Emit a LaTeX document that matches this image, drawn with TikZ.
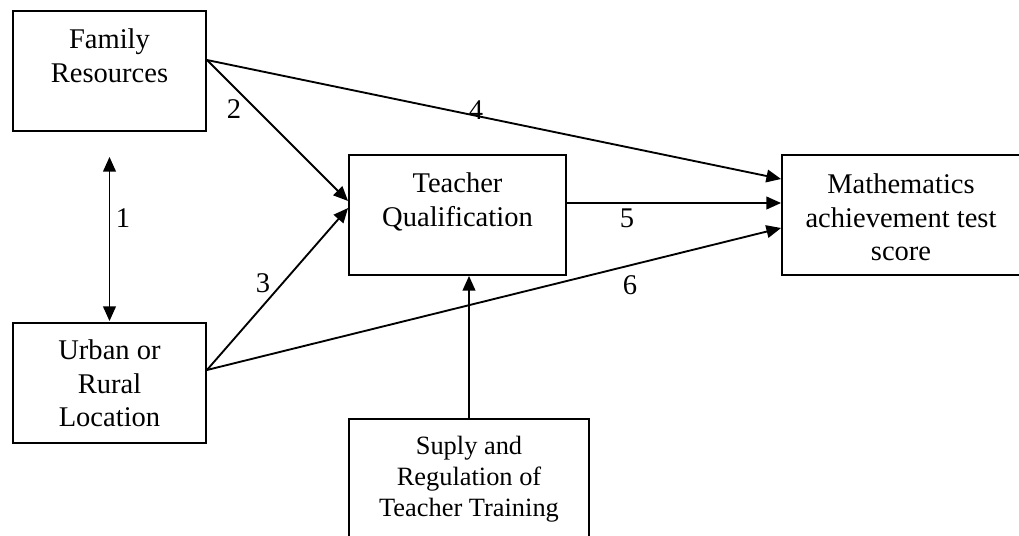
\documentclass[tikz,border=0pt]{standalone}
\usepackage{fontspec}
\setmainfont{Liberation Serif}
\usetikzlibrary{arrows.meta}
\begin{document}
\begin{tikzpicture}[x=0.75pt,y=-0.75pt,
  box/.style={draw, line width=1.4pt, rectangle, inner sep=0pt},
  boxtext/.style={anchor=north, align=center, inner sep=0pt,
    font=\fontsize{21.4pt}{25pt}\selectfont},
  smalltext/.style={boxtext, font=\fontsize{19.8pt}{23.3pt}\selectfont},
  num/.style={inner sep=0pt, font=\fontsize{21.4pt}{25pt}\selectfont},
  link/.style={line width=1.4pt, -{Triangle[length=11pt,width=9.5pt]}},
  both/.style={line width=1.4pt, {Triangle[length=11pt,width=9.5pt]}-{Triangle[length=11pt,width=9.5pt]}},
  ]
\clip (0,0) rectangle (1019,535);

% boxes
\node[box, minimum width=193*0.75pt, minimum height=120*0.75pt] (fam) at (109.5,71) {};
\node[box, minimum width=193*0.75pt, minimum height=120*0.75pt] (urb) at (109.5,383) {};
\node[box, minimum width=217*0.75pt, minimum height=120*0.75pt] (tq) at (457.5,215) {};
\node[box, minimum width=243*0.75pt, minimum height=120*0.75pt] (math) at (903.5,215) {};
\node[box, minimum width=240*0.75pt, minimum height=141*0.75pt] (sup) at (469,489.5) {};

% box texts
\node[boxtext] (famT) at (fam.north) {\rule{0pt}{28.9pt}Family\\Resources};
\node[boxtext] (urbT) at (urb.north) {\rule{0pt}{28.1pt}Urban or\\Rural\\Location};
\node[boxtext] (tqT) at (tq.north) {\rule{0pt}{28.9pt}Teacher\\Qualification};
\node[boxtext] (mathT) at (901,155) {\rule{0pt}{28.9pt}Mathematics\\achievement test\\score};
\node[smalltext] (supT) at (sup.north) {\rule{0pt}{27pt}Suply and\\Regulation of\\Teacher Training};

% connectors
\draw[both, shorten <=18.75pt, shorten >=0.75pt] (fam.south) -- (urb.north);
\draw[link] ([yshift=8.25pt]fam.east) -- ([yshift=10.5pt]tq.west);
\draw[link] ([yshift=9.75pt]urb.east) -- ([yshift=5.25pt]tq.west);
\draw[link] ([yshift=8.25pt]fam.east) -- ([yshift=27pt]math.west);
\draw[link] ([yshift=9pt]tq.east) -- ([yshift=9pt]math.west);
\draw[link] ([yshift=9.75pt]urb.east) -- ([yshift=-9.75pt]math.west);
\draw[link] (sup.north) -- (sup.north |- tq.south);

% path labels
\node[num] (n1) at (123,218) {1};
\node[num] (n2) at (234,109) {2};
\node[num] (n3) at (263,283) {3};
\node[num] (n4) at (476,110) {4};
\node[num] (n5) at (627,218) {5};
\node[num] (n6) at (630,285) {6};
\end{tikzpicture}
\end{document}
